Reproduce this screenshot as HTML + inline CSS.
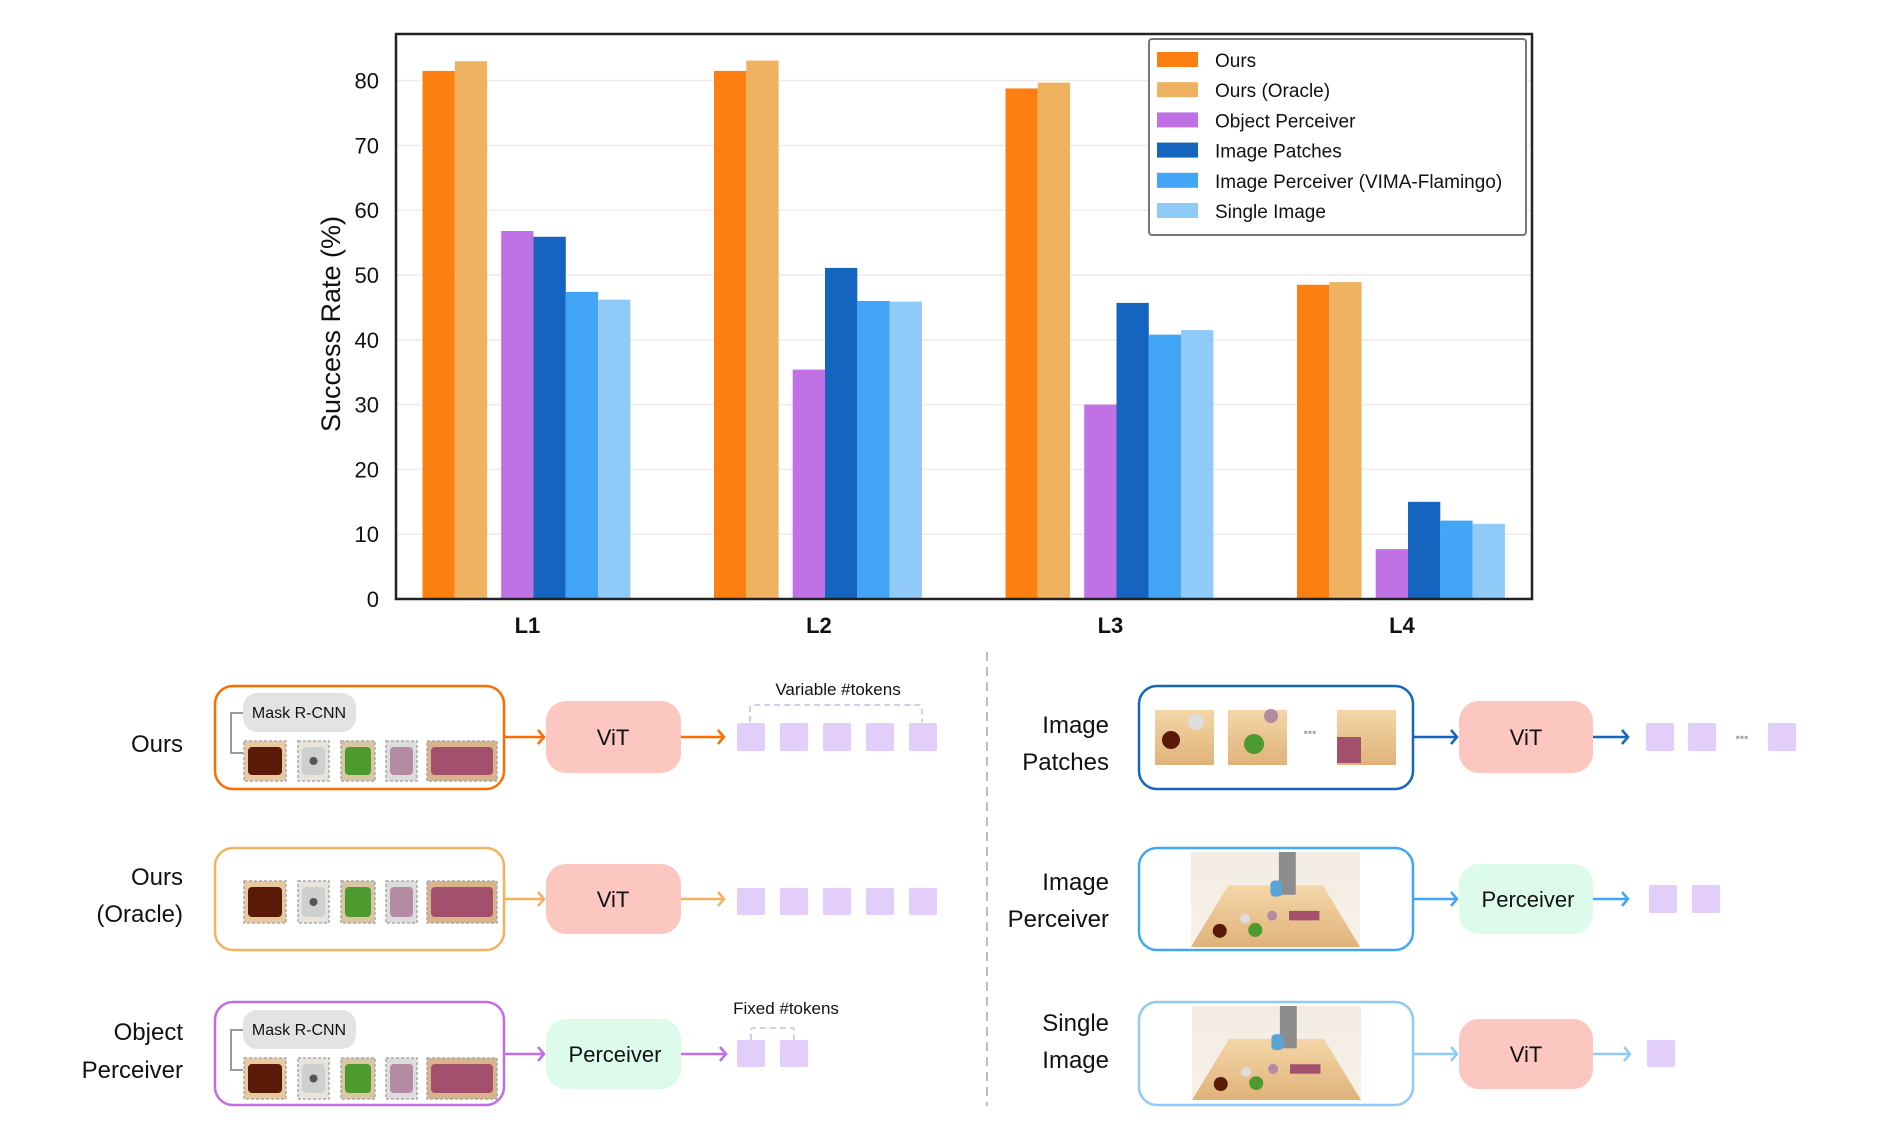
<!DOCTYPE html>
<html><head><meta charset="utf-8"><style>
html,body{margin:0;padding:0;background:#fff;}
svg{display:block;font-family:"Liberation Sans",sans-serif;}
</style></head><body>
<svg id="fig" width="1886" height="1142" viewBox="0 0 1886 1142" xmlns="http://www.w3.org/2000/svg">
<defs>
<linearGradient id="wood" x1="0" y1="0" x2="0" y2="1"><stop offset="0" stop-color="#f4d7a8"/><stop offset="1" stop-color="#e0b27a"/></linearGradient>
<linearGradient id="floor" x1="0" y1="0" x2="0" y2="1"><stop offset="0" stop-color="#f2ece2"/><stop offset="1" stop-color="#f7f1e7"/></linearGradient>
</defs>
<g id="chart"></g>

<line x1="987" y1="652" x2="987" y2="1106" stroke="#bdbdbd" stroke-width="2" stroke-dasharray="9,6"/>

<g font-size="24" fill="#111" text-anchor="end">
<text x="183" y="752">Ours</text>
<text x="183" y="885">Ours</text>
<text x="183" y="922">(Oracle)</text>
<text x="183" y="1040">Object</text>
<text x="183" y="1078">Perceiver</text>
<text x="1109" y="733">Image</text>
<text x="1109" y="770">Patches</text>
<text x="1109" y="890">Image</text>
<text x="1109" y="927">Perceiver</text>
<text x="1109" y="1031">Single</text>
<text x="1109" y="1068">Image</text>
</g>

<g id="diagram"></g>
</svg>
<script>
// ---- chart data ----
const categories = ["L1","L2","L3","L4"];
const seriesNames = ["Ours","Ours (Oracle)","Object Perceiver","Image Patches","Image Perceiver (VIMA-Flamingo)","Single Image"];
const seriesColors = ["#fd7f12","#efb261","#c071e5","#1565c0","#42a5f5","#90caf9"];
const oursVals = [81.5,81.5,78.8,48.5];
const oracleVals = [83.0,83.1,79.7,48.9];
const objPercVals = [56.8,35.4,30.0,7.7];
const patchVals = [55.9,51.1,45.7,15.0];
const imgPercVals = [47.4,46.0,40.8,12.1];
const singleVals = [46.2,45.9,41.5,11.6];
const yTicks = [0,10,20,30,40,50,60,70,80];

const NS="http://www.w3.org/2000/svg";
function mk(tag,attrs,parent){const e=document.createElementNS(NS,tag);for(const k in attrs)e.setAttribute(k,attrs[k]);parent.appendChild(e);return e;}
const chart=document.getElementById('chart');
const L=396,R=1532,T=34,B=599,YMAX=87.2;
const y=v=>B-(v/YMAX)*(B-T);
const groupX=i=>422.5+i*291.5;
const offs=[0,32.3,78.7,111,143.3,175.6];
const bw=32.3;
yTicks.forEach(t=>{
  const g=mk('line',{x1:L,x2:R,y1:y(t),y2:y(t),stroke:'#ececec','stroke-width':1.5},chart);
  
  
  const tx=mk('text',{x:379,y:y(t)+8,'text-anchor':'end','font-size':22,fill:'#111'},chart);
  tx.textContent=t;
  
  
});
const all=[oursVals,oracleVals,objPercVals,patchVals,imgPercVals,singleVals];
categories.forEach((c,i)=>{
  all.forEach((vals,s)=>{
    const r=mk('rect',{x:groupX(i)+offs[s],y:y(vals[i]),width:bw,height:B-y(vals[i]),fill:seriesColors[s]},chart);
    
    
  });
  const t=mk('text',{x:groupX(i)+offs[5]/2+bw/2+1,y:633,'text-anchor':'middle','font-size':22,'font-weight':'bold',fill:'#111'},chart);
  t.textContent=c;
  
  
});
const frame=mk('rect',{x:L,y:T,width:R-L,height:B-T,fill:'none',stroke:'#222','stroke-width':2.5},chart);


const yl=mk('text',{x:0,y:0,transform:'translate(340,324) rotate(-90)','text-anchor':'middle','font-size':27,fill:'#111'},chart);
yl.textContent='Success Rate (%)';


const lg=mk('g',{},chart);


mk('rect',{x:1149,y:39,width:377,height:196,rx:3,fill:'#fff',stroke:'#777','stroke-width':2},lg);
seriesNames.forEach((n,s)=>{
  const yy=60+s*30.2;
  const sw=mk('rect',{x:1157,y:yy-8,width:41,height:15,fill:seriesColors[s]},lg);
  
  
  const t=mk('text',{x:1215,y:yy+7,'font-size':19,fill:'#111'},lg);
  t.textContent=n;
  
  
});

// ---- diagram ----
const root=document.getElementById('diagram');
let dg=root;
function box(x,yy,w,h,rx,fill,stroke,name){const r=mk('rect',{x:x,y:yy,width:w,height:h,rx:rx,fill:fill,stroke:stroke||'none','stroke-width':2.5},dg);return r;}
function txt(x,yy,s,size,name,fill){const t=mk('text',{x:x,y:yy,'text-anchor':'middle','font-size':size,fill:fill||'#111'},dg);t.textContent=s;return t;}
function arrow(x1,x2,yy,col,name){const g=mk('g',{stroke:col,'stroke-width':2.5,fill:'none'},dg);mk('line',{x1:x1,x2:x2,y1:yy,y2:yy},g);mk('polyline',{points:`${x2-6},${yy-7} ${x2},${yy} ${x2-6},${yy+7}`},g);}
function objects(yy,h,name){
  const g=mk('g',{},dg);
  const xs=[[244,42,'#5a1a08','#e8c9a0'],[298,31,'#cfcfcf','#e8e4dc'],[341,34,'#4d9a2f','#d9c7a3'],[386,31,'#b58aa3','#ddd'],[427,70,'#a2506c','#d9b48b']];
  xs.forEach(o=>{mk('rect',{x:o[0],y:yy,width:o[1],height:h,fill:o[3],stroke:'#aaa','stroke-width':1.5,'stroke-dasharray':'3,2'},g);
    mk('rect',{x:o[0]+4,y:yy+6,width:o[1]-8,height:h-12,rx:4,fill:o[2]},g);});
  mk('circle',{cx:313.5,cy:yy+h/2,r:4,fill:'#555'},g);
}
function pill(yy,name){box(243,yy,113,39,14,'#e3e3e3',null,name);txt(299,yy+25,'Mask R-CNN',16,name+'-text');
  mk('polyline',{points:`243,${yy+20} 231,${yy+20} 231,${yy+60} 243,${yy+60}`,stroke:'#999','stroke-width':2,fill:'none'},dg);}
function tokens(xs,yy,h,name){xs.forEach((x,i)=>{box(x,yy,28,h,2,'#e3cdfa',null,name+'-'+i);});}
function scene(x,yy,w,h,name){const g=mk('g',{},dg);
  mk('rect',{x:x,y:yy,width:w,height:h,fill:'url(#floor)'},g);
  mk('polygon',{points:`${x+w*0.22},${yy+h*0.35} ${x+w*0.78},${yy+h*0.35} ${x+w},${yy+h} ${x},${yy+h}`,fill:'url(#wood)'},g);
  mk('rect',{x:x+w*0.52,y:yy,width:w*0.1,height:h*0.45,fill:'#8d8d8d'},g);
  mk('rect',{x:x+w*0.47,y:yy+h*0.3,width:w*0.07,height:h*0.17,rx:4,fill:'#5aa5d6'},g);
  mk('rect',{x:x+w*0.58,y:yy+h*0.62,width:w*0.18,height:h*0.1,fill:'#a2506c'},g);
  mk('circle',{cx:x+w*0.32,cy:yy+h*0.7,r:5,fill:'#ddd'},g);
  mk('circle',{cx:x+w*0.38,cy:yy+h*0.82,r:7,fill:'#4d9a2f'},g);
  mk('circle',{cx:x+w*0.17,cy:yy+h*0.83,r:7,fill:'#5a1a08'},g);
  mk('circle',{cx:x+w*0.48,cy:yy+h*0.67,r:5,fill:'#b58aa3'},g);}

box(215,686,289,103,18,'#fff','#ff6d00','ours-input-box');
pill(693,'ours-mask-rcnn');objects(741,40,'ours-objects');
box(215,848,289,102,18,'#fff','#f2b25e','oracle-input-box');
objects(881,42,'oracle-objects');
box(215,1002,289,103,18,'#fff','#c06ee8','objperc-input-box');
pill(1010,'objperc-mask-rcnn');objects(1058,41,'objperc-objects');

dg=mk('g',{transform:'translate(-7,0)'},root);
arrow(511,551,737,'#ff6d00','ours-arrow-1');
box(553,701,135,72,20,'#fcc7c0',null,'ours-vit');txt(620,745,'ViT',22,'ours-vit-label');
arrow(688,731,737,'#ff6d00','ours-arrow-2');
tokens([744,787,830,873,916],723,28,'ours-token');
txt(845,695,'Variable #tokens',17,'variable-tokens-label');
mk('path',{d:'M757,722 V708 Q757,705 760,705 H926 Q929,705 929,708 V722',stroke:'#d9c9ef','stroke-width':2,fill:'none','stroke-dasharray':'6,4'},dg);
arrow(511,551,899,'#f2b25e','oracle-arrow-1');
box(553,864,135,70,20,'#fcc7c0',null,'oracle-vit');txt(620,907,'ViT',22,'oracle-vit-label');
arrow(688,731,899,'#f2b25e','oracle-arrow-2');
tokens([744,787,830,873,916],888,27,'oracle-token');
arrow(511,551,1054,'#c06ee8','objperc-arrow-1');
box(553,1019,135,70,20,'#dcfbeb',null,'objperc-perceiver');txt(622,1062,'Perceiver',22,'objperc-perceiver-label');
arrow(688,733,1054,'#c06ee8','objperc-arrow-2');
tokens([744,787],1040,27,'objperc-token');
txt(793,1014,'Fixed #tokens',17,'fixed-tokens-label');
mk('path',{d:'M758,1040 V1030 Q758,1028 760,1028 H799 Q801,1028 801,1030 V1040',stroke:'#d9c9ef','stroke-width':2,fill:'none','stroke-dasharray':'6,4'},dg);

dg=mk('g',{transform:'translate(-4,0)'},root);
box(1143,686,274,103,18,'#fff','#1565c0','patches-input-box');
[1159,1232,1341].forEach((x,i)=>{box(x,710,59,55,0,'url(#wood)',null,'patch-'+i);});
mk('circle',{cx:1175,cy:740,r:9,fill:'#5a1a08'},dg);mk('circle',{cx:1200,cy:722,r:8,fill:'#ddd'},dg);
mk('circle',{cx:1258,cy:744,r:10,fill:'#4d9a2f'},dg);mk('circle',{cx:1275,cy:716,r:7,fill:'#b58aa3'},dg);
mk('rect',{x:1341,y:737,width:24,height:26,fill:'#a2506c'},dg);
txt(1314,736,'▪▪▪',12,'patches-ellipsis','#aaa');
arrow(1417,1461,737,'#1565c0','patches-arrow-1');
box(1463,701,134,72,20,'#fcc7c0',null,'patches-vit');txt(1530,745,'ViT',22,'patches-vit-label');
arrow(1597,1632,737,'#1565c0','patches-arrow-2');
tokens([1650,1692,1772],723,28,'patches-token');
txt(1746,741,'▪▪▪',12,'tokens-ellipsis','#aaa');
box(1143,848,274,102,18,'#fff','#42a5f5','imgperc-input-box');
scene(1195,852,169,95,'imgperc-scene');
arrow(1417,1461,899,'#42a5f5','imgperc-arrow-1');
box(1463,864,134,70,20,'#dcfbeb',null,'imgperc-perceiver');txt(1532,907,'Perceiver',22,'imgperc-perceiver-label');
arrow(1597,1632,899,'#42a5f5','imgperc-arrow-2');
tokens([1653,1696],885,28,'imgperc-token');
box(1143,1002,274,103,18,'#fff','#90caf9','single-input-box');
scene(1196,1006,169,94,'single-scene');
arrow(1417,1461,1054,'#90caf9','single-arrow-1');
box(1463,1019,134,70,20,'#fcc7c0',null,'single-vit');txt(1530,1062,'ViT',22,'single-vit-label');
arrow(1597,1634,1054,'#90caf9','single-arrow-2');
tokens([1651],1040,27,'single-token');
</script>
</body></html>
